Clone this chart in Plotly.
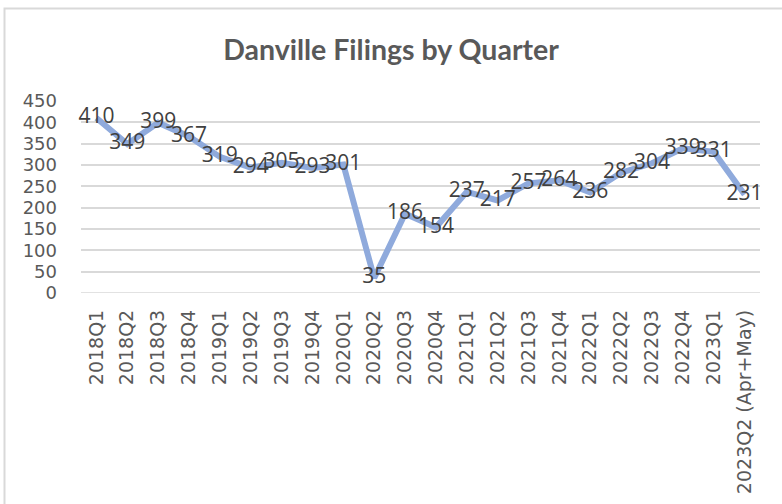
import plotly.graph_objects as go

quarters = ["2018Q1", "2018Q2", "2018Q3", "2018Q4", "2019Q1", "2019Q2", "2019Q3", "2019Q4",
            "2020Q1", "2020Q2", "2020Q3", "2020Q4", "2021Q1", "2021Q2", "2021Q3", "2021Q4",
            "2022Q1", "2022Q2", "2022Q3", "2022Q4", "2023Q1", "2023Q2 (Apr+May)"]
filings = [410, 349, 399, 367, 319, 294, 305, 293, 301, 35, 186, 154,
           237, 217, 257, 264, 236, 282, 304, 339, 331, 231]
y_ticks = [0, 50, 100, 150, 200, 250, 300, 350, 400, 450]

W, H = 782, 504
L, R, T, B = 81, 22, 101, 211
pw, ph = W - L - R, H - T - B

fig = go.Figure()
fig.add_trace(go.Scatter(
    x=quarters, y=filings, mode="lines+text",
    line=dict(color="#8FAADC", width=6),
    text=[str(v) for v in filings], textposition="middle center",
    textfont=dict(family="Open Sans", size=21, color="#404040"),
    cliponaxis=False, hoverinfo="x+y", showlegend=False,
))

fig.update_layout(
    width=W, height=H,
    margin=dict(l=L, r=R, t=T, b=B, autoexpand=False),
    paper_bgcolor="white", plot_bgcolor="white",
    title=dict(text="<b>Danville Filings by Quarter</b>", x=0.5, xanchor="center",
               y=1 - 50 / H, yanchor="middle",
               font=dict(family="Lato", size=28.5, color="#595959")),
    xaxis=dict(type="category", categoryorder="array", categoryarray=quarters,
               range=[-0.5, len(quarters) - 0.5], tickangle=-90, automargin=False,
               tickfont=dict(family="DejaVu Sans", size=19, color="#595959"),
               showgrid=False, showline=False, zeroline=False, ticks="",
               ticklabelstandoff=12),
    yaxis=dict(range=[0, 450], tickvals=y_ticks, showgrid=True, automargin=False,
               gridcolor="#D9D9D9", gridwidth=1.5, zeroline=False, showline=False,
               tickfont=dict(family="DejaVu Sans", size=18, color="#595959"),
               ticks="", ticklabelstandoff=23),
)
# outer chart border
fig.add_shape(type="rect", xref="paper", yref="paper",
              x0=(4.5 - L) / pw, x1=(W + 20 - L) / pw,
              y0=-(B + 20) / ph, y1=1 + (T - 8.5) / ph,
              line=dict(color="#D9D9D9", width=2), layer="below")
# bottom axis line
fig.add_shape(type="line", xref="paper", yref="y", x0=0, x1=1, y0=0, y1=0,
              line=dict(color="#D9D9D9", width=1.5), layer="below")

fig.write_html("out.html", config={"displayModeBar": False},
               post_script="document.body.style.margin='0';")
